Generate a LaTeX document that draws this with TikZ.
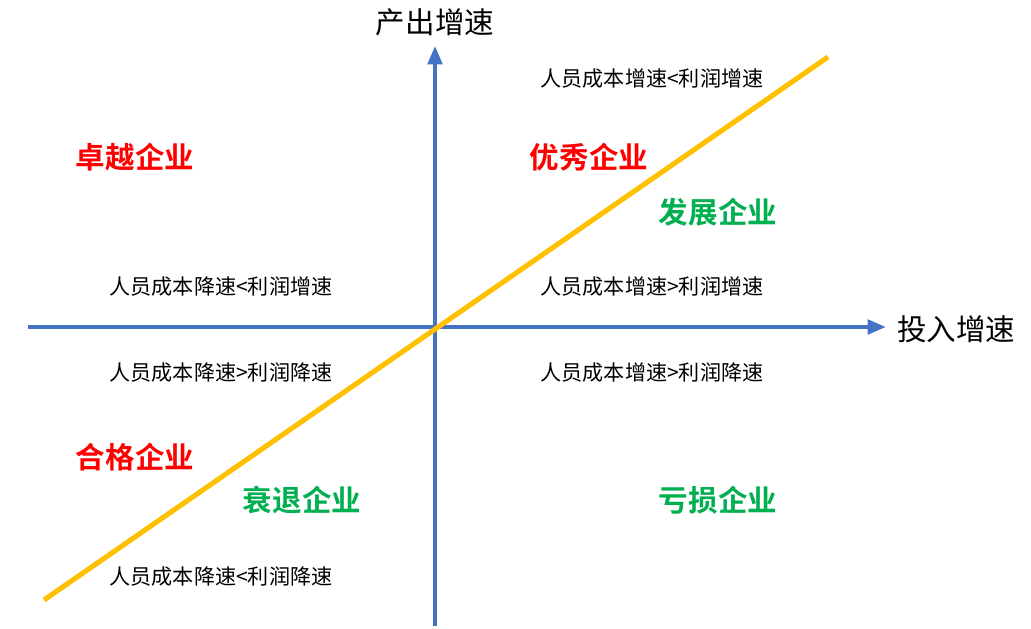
\documentclass[tikz,border=0pt]{standalone}
\usepackage{fontspec}
\newfontfamily\cjk{Noto Sans CJK SC}
\newfontfamily\cjkbold{Noto Sans CJK SC Bold}
\usepackage{tikz}
\usetikzlibrary{arrows.meta}

\definecolor{axisblue}{HTML}{4472C4}
\definecolor{lineyellow}{HTML}{FFC000}
\definecolor{goodred}{HTML}{FF0000}
\definecolor{okgreen}{HTML}{00B050}

\begin{document}
\begin{tikzpicture}[
    x=0.025cm,
    y=-0.025cm,
    axis/.style={-{Triangle[length=4.6mm, width=3.6mm]}, draw=axisblue, fill=axisblue, line width=2.9pt},
    trend/.style={draw=lineyellow, line width=3.6pt},
    axislabel/.style={font=\cjk\fontsize{21}{24}\selectfont, inner sep=0pt},
    note/.style={font=\cjk\fontsize{15}{18}\selectfont, inner sep=0pt},
    redlabel/.style={font=\cjkbold\fontsize{21}{24}\selectfont, text=goodred, inner sep=0pt},
    greenlabel/.style={font=\cjkbold\fontsize{21}{24}\selectfont, text=okgreen, inner sep=0pt}
]
\useasboundingbox (0,0) rectangle (1031,629);

% axes
\coordinate (origin) at (435,327);
\coordinate (xstart) at (28,327);
\coordinate (xend) at (886,327);
\coordinate (ystart) at (435,626);
\coordinate (yend) at (435,46);
\draw[axis] (xstart) -- (xend);
\draw[axis] (ystart) -- (yend);
\node[axislabel] (ylabel) at (435,22) {产出增速};
\node[axislabel, anchor=west] (xlabel) at (897,329) {投入增速};

% diagonal
\coordinate (tlow) at (44,600);
\coordinate (thigh) at (828,57);
\draw[trend] (tlow) -- (thigh);

% conditions
\node[note] (n1) at (652,79) {人员成本增速<利润增速};
\node[note] (n2) at (221,287) {人员成本降速<利润增速};
\node[note] (n3) at (652,287) {人员成本增速>利润增速};
\node[note] (n4) at (221,373) {人员成本降速>利润降速};
\node[note] (n5) at (652,373) {人员成本增速>利润降速};
\node[note] (n6) at (221,577) {人员成本降速<利润降速};

% firm types
\node[redlabel] (zhuoyue) at (135,157) {卓越企业};
\node[redlabel] (youxiu) at (589,157) {优秀企业};
\node[greenlabel] (fazhan) at (718,212) {发展企业};
\node[redlabel] (hege) at (135,457) {合格企业};
\node[greenlabel] (shuaitui) at (302,500) {衰退企业};
\node[greenlabel] (kuisun) at (718,500) {亏损企业};
\end{tikzpicture}
\end{document}
